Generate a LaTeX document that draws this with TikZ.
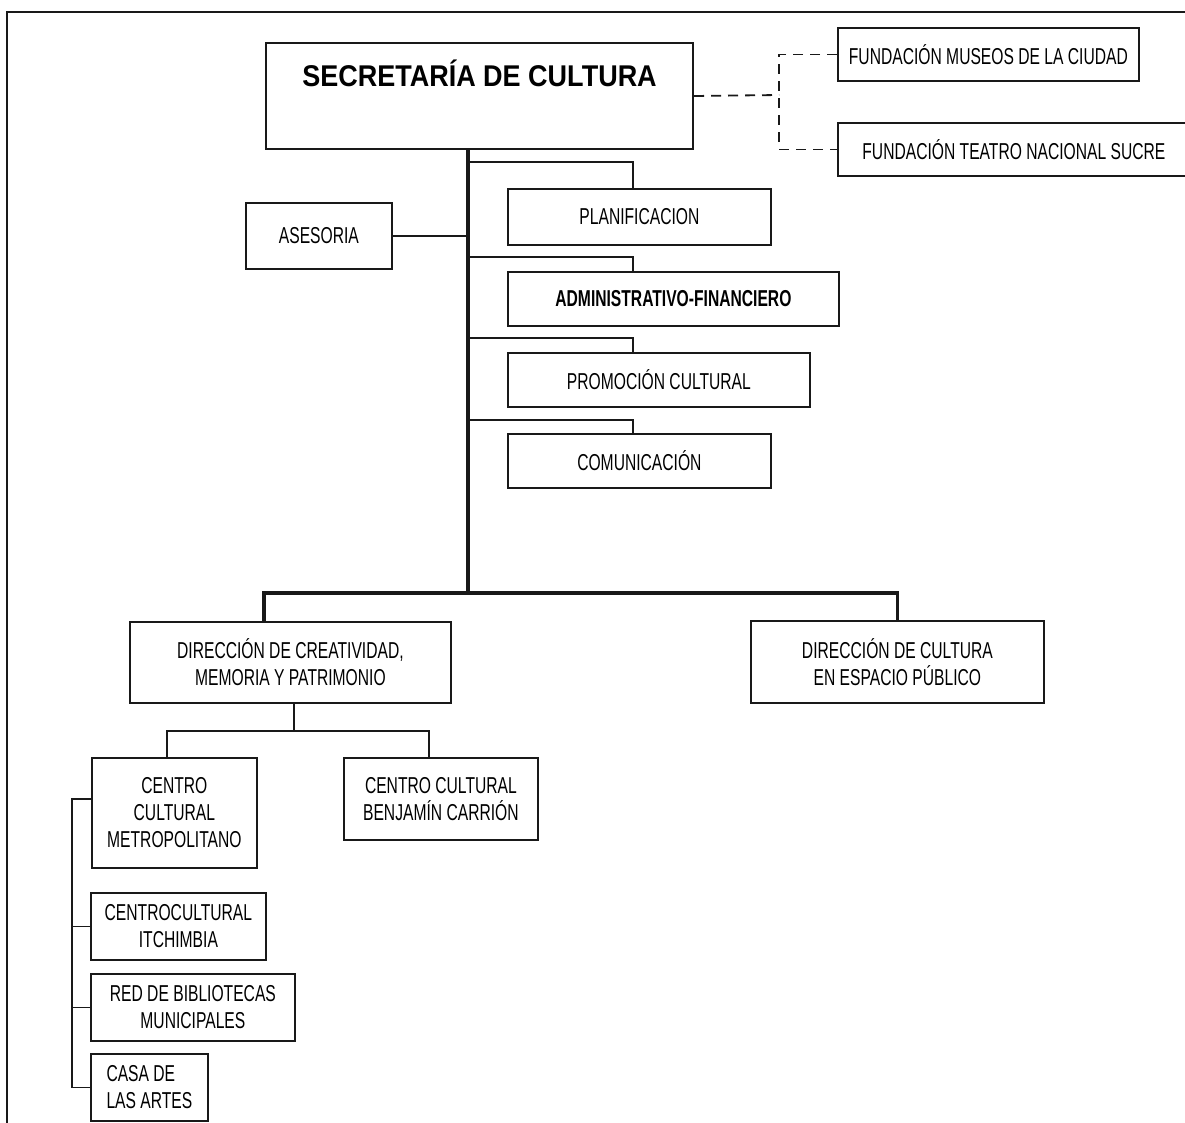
\documentclass[tikz,border=0pt]{standalone}
\usepackage{fontspec}
\setmainfont{Liberation Sans}[FakeStretch=0.68]
\newfontfamily\titlefont{Liberation Sans}[FakeStretch=0.9]
\usepackage{tikz}
\usetikzlibrary{positioning, calc}
\definecolor{cInk}{RGB}{25,25,25}
\tikzset{
  basebox/.style={rectangle, draw=cInk, line width=1.8pt, inner sep=0pt,
                  align=center, anchor=north west,
                  font=\fontsize{23}{27}\selectfont},
  unitnode/.style={basebox},
  headnode/.style={basebox, line width=2pt,
                   font=\titlefont\bfseries\fontsize{30}{34}\selectfont},
  link/.style={draw=cInk, line width=1.7pt},
  trunk/.style={draw=cInk, line width=3.6pt},
  dashlink/.style={draw=cInk, line width=1.8pt, dash pattern=on 10pt off 7pt},
  frameline/.style={draw=cInk, line width=2.2pt}
}

\begin{document}
\begin{tikzpicture}[x=1pt, y=-1pt]
  \useasboundingbox (0,0) rectangle (1185,1122);
  \draw[frameline] (7,12) rectangle (1200,1140);

  \node[headnode, minimum width=427pt, text height=43pt, text depth=63pt] (sec) at (265,42)
      {SECRETARÍA DE CULTURA};
  \node[unitnode, minimum width=301pt, minimum height=53pt] (museos) at (837,27)
      {FUNDACIÓN MUSEOS DE LA CIUDAD};
  \node[unitnode, minimum width=352pt, minimum height=53pt] (teatro) at (837,122)
      {FUNDACIÓN TEATRO NACIONAL SUCRE};
  \node[unitnode, minimum width=146pt, minimum height=66pt] (asesoria) at (245,202)
      {ASESORIA};
  \node[unitnode, minimum width=263pt, minimum height=56pt] (plan) at (507,188)
      {PLANIFICACION};
  \node[unitnode, minimum width=331pt, minimum height=54pt, font=\fontsize{23}{27}\selectfont\bfseries] (admin) at (507,271)
      {ADMINISTRATIVO-FINANCIERO};
  \node[unitnode, minimum width=302pt, minimum height=54pt] (promo) at (507,352)
      {PROMOCIÓN CULTURAL};
  \node[unitnode, minimum width=263pt, minimum height=54pt] (comu) at (507,433)
      {COMUNICACIÓN};
  \node[unitnode, minimum width=321pt, minimum height=81pt] (creat) at (129,621)
      {DIRECCIÓN DE CREATIVIDAD,\\ MEMORIA Y PATRIMONIO};
  \node[unitnode, minimum width=293pt, minimum height=82pt] (espacio) at (750,620)
      {DIRECCIÓN DE CULTURA\\ EN ESPACIO PÚBLICO};
  \node[unitnode, minimum width=165pt, minimum height=110pt] (metro) at (91,757)
      {CENTRO\\ CULTURAL\\ METROPOLITANO};
  \node[unitnode, minimum width=194pt, minimum height=82pt] (carrion) at (343,757)
      {CENTRO CULTURAL\\ BENJAMÍN CARRIÓN};
  \node[unitnode, minimum width=175pt, minimum height=67pt] (itchi) at (90,892)
      {CENTROCULTURAL\\ ITCHIMBIA};
  \node[unitnode, minimum width=204pt, minimum height=67pt] (red) at (90,973)
      {RED DE BIBLIOTECAS\\ MUNICIPALES};
  \node[unitnode, minimum width=117pt, minimum height=67pt, align=left] (casa) at (90,1053)
      {CASA DE\\ LAS ARTES};

  \coordinate (hub) at (468,593);
  \coordinate (drop) at (633,0);
  \coordinate (fork) at (779,95);
  \coordinate (barL) at (264,593);
  \coordinate (sub) at (294,731);
  \coordinate (subL) at (167,731);
  \coordinate (subR) at (429,731);
  \coordinate (spine) at (72,799);

  \draw[trunk] (sec.south -| hub) -- (hub);
  \draw[trunk] (creat.north -| barL) -- (barL) -| (espacio.north);
  \draw[link] (asesoria.east) -- (asesoria.east -| hub);
  \foreach \n/\y in {plan/162, admin/257, promo/338, comu/420}
    \draw[link] (hub |- 0,\y) -| (\n.north -| drop);

  \draw[dashlink] (sec.east) -- (fork);
  \draw[dashlink] (museos.west) -| (fork) |- (teatro.west);

  \draw[link] (creat.south -| sub) -- (sub);
  \draw[link] (metro.north -| subL) -- (subL) -- (subR) -- (carrion.north -| subR);
  \draw[link] (metro.west |- spine) -- (spine) |- (casa.west);
  \foreach \n in {itchi, red}
    \draw[link] (\n.west) -- (\n.west -| spine);
\end{tikzpicture}
\end{document}
